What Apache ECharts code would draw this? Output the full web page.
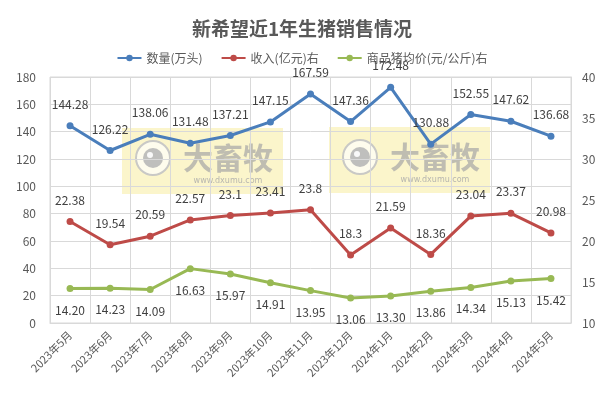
<!DOCTYPE html>
<html><head><meta charset="utf-8">
<script src="https://cdn.jsdelivr.net/npm/echarts@6/dist/echarts.min.js"></script>
<style>html,body{margin:0;padding:0;background:#fff}#c{width:604px;height:393px}</style>
</head><body><div id="c"></div>
<script>
const categories = ['2023年5月','2023年6月','2023年7月','2023年8月','2023年9月','2023年10月','2023年11月','2023年12月','2024年1月','2024年2月','2024年3月','2024年4月','2024年5月'];
const volume = [144.28,126.22,138.06,131.48,137.21,147.15,167.59,147.36,172.48,130.88,152.55,147.62,136.68];
const revenue = [22.38,19.54,20.59,22.57,23.1,23.41,23.8,18.3,21.59,18.36,23.04,23.37,20.98];
const price = [14.20,14.23,14.09,16.63,15.97,14.91,13.95,13.06,13.30,13.86,14.34,15.13,15.42];
const priceLabels = ['14.20','14.23','14.09','16.63','15.97','14.91','13.95','13.06','13.30','13.86','14.34','15.13','15.42'];
const leftTicks = [0,20,40,60,80,100,120,140,160,180];
const rightTicks = [10,15,20,25,30,35,40];

const chart = echarts.init(document.getElementById('c'));
const font = "'Microsoft YaHei','Noto Sans CJK SC',sans-serif";
function wm(x, y) {
  return {
    type: 'group', x: x, y: y, z: 100,
    children: [
      {type:'rect', shape:{x:0,y:0,width:161,height:66}, style:{fill:'rgba(245,232,130,0.42)'}},
      {type:'circle', shape:{cx:31,cy:30,r:17}, style:{fill:'rgba(255,255,255,0.65)', stroke:'rgba(195,195,195,0.9)', lineWidth:2}},
      {type:'circle', shape:{cx:31,cy:30,r:10}, style:{fill:'rgba(180,180,180,0.85)'}},
      {type:'circle', shape:{cx:28,cy:27,r:3}, style:{fill:'rgba(255,255,255,0.9)'}},
      {type:'text', style:{x:106,y:30,text:'大畜牧',font:'bold 30px "Noto Sans CJK SC"',fill:'rgba(165,165,165,0.7)',align:'center',verticalAlign:'middle'}},
      {type:'text', style:{x:106,y:53,text:'www.dxumu.com',font:'8px "DejaVu Sans"',fill:'rgba(170,170,170,0.85)',align:'center',verticalAlign:'middle'}}
    ]
  };
}
chart.setOption({
  animation: false,
  backgroundColor: '#fff',
  title: {text:'新希望近1年生猪销售情况', left:'center', top:14, textStyle:{fontSize:19, fontWeight:'bold', color:'#595959', fontFamily:font}},
  legend: {top:47, left:'center', itemWidth:24, itemHeight:8, itemGap:18, textStyle:{fontSize:12, color:'#595959', fontFamily:font},
    data:['数量(万头)','收入(亿元)右','商品猪均价(元/公斤)右']},
  grid: {left:50, right:33, top:77, bottom:70},
  xAxis: {type:'category', data:categories, boundaryGap:true,
    axisLine:{lineStyle:{color:'#d9d9d9'}}, axisTick:{show:false},
    splitLine:{show:true, lineStyle:{color:'#d9d9d9'}},
    axisLabel:{rotate:45, fontSize:11, color:'#595959', fontFamily:font, interval:0, margin:10}},
  yAxis: [
    {type:'value', min:0, max:180, interval:20, axisLine:{show:false}, axisTick:{show:false},
     splitLine:{lineStyle:{color:'#d9d9d9'}}, axisLabel:{fontSize:12, color:'#595959', fontFamily:font, margin:14}},
    {type:'value', min:10, max:40, interval:5, axisLine:{show:true, lineStyle:{color:'#d9d9d9'}}, axisTick:{show:false},
     splitLine:{show:false}, axisLabel:{fontSize:12, color:'#595959', fontFamily:font, margin:11}}
  ],
  graphic: [wm(122,128), wm(329,127),
    {type:'rect', z:0, shape:{x:50,y:77,width:521,height:246}, style:{fill:'none', stroke:'#d9d9d9', lineWidth:1}}],
  series: [
    {name:'数量(万头)', type:'line', data:volume, yAxisIndex:0, symbol:'circle', symbolSize:7,
     lineStyle:{width:3, color:'#4a7ebb'}, itemStyle:{color:'#4a7ebb'},
     label:{show:true, position:'top', distance:12, fontSize:12, color:'#404040', fontFamily:font}},
    {name:'收入(亿元)右', type:'line', data:revenue, yAxisIndex:1, symbol:'circle', symbolSize:7,
     lineStyle:{width:3, color:'#be4b48'}, itemStyle:{color:'#be4b48'},
     label:{show:true, position:'top', distance:12, fontSize:12, color:'#404040', fontFamily:font}},
    {name:'商品猪均价(元/公斤)右', type:'line', data:price, yAxisIndex:1, symbol:'circle', symbolSize:7,
     lineStyle:{width:3, color:'#98b954'}, itemStyle:{color:'#98b954'},
     label:{show:true, position:'bottom', distance:12, fontSize:12, color:'#404040', fontFamily:font,
       formatter: p => priceLabels[p.dataIndex]}}
  ]
});
</script></body></html>
